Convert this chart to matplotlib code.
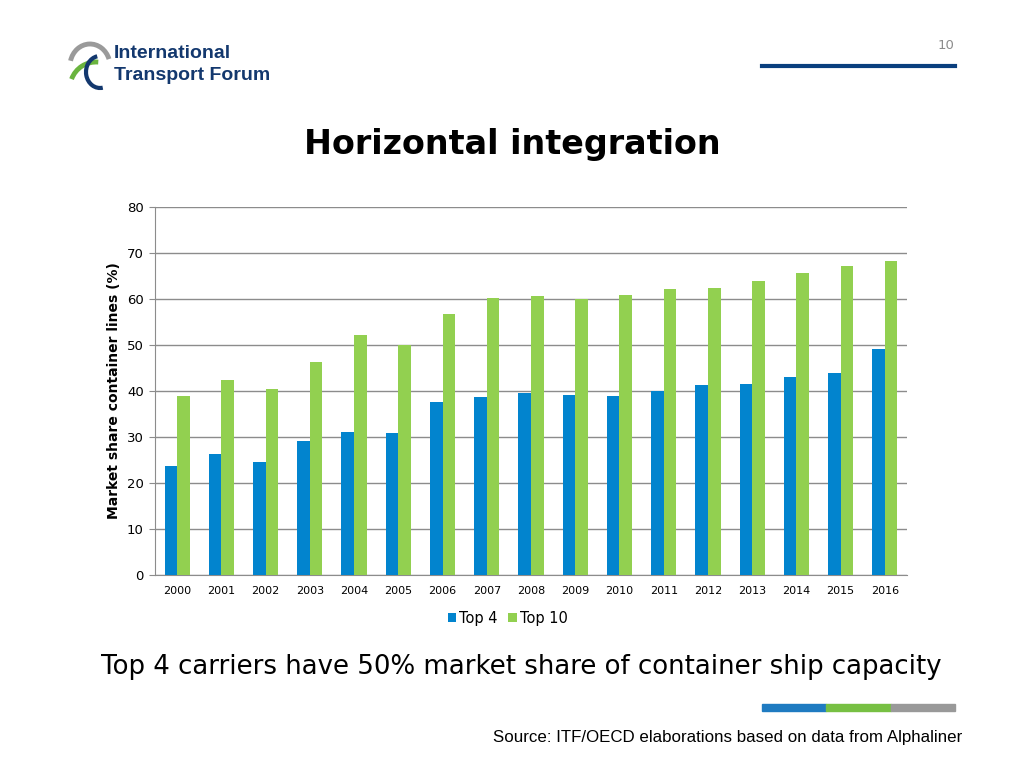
import matplotlib.pyplot as plt
import numpy as np
from matplotlib.patches import Arc, Rectangle
from matplotlib.lines import Line2D

years = ['2000', '2001', '2002', '2003', '2004', '2005', '2006', '2007', '2008',
         '2009', '2010', '2011', '2012', '2013', '2014', '2015', '2016']
top4 = [23.7, 26.2, 24.6, 29.1, 31.1, 30.9, 37.7, 38.8, 39.5,
        39.1, 39.0, 40.1, 41.2, 41.6, 43.0, 44.0, 49.2]
top10 = [38.9, 42.4, 40.4, 46.3, 52.2, 50.1, 56.7, 60.2, 60.7,
         60.1, 60.9, 62.2, 62.4, 63.9, 65.6, 67.1, 68.3]

plt.rcParams['font.family'] = 'DejaVu Sans'

fig = plt.figure(figsize=(10.24, 7.68), dpi=100)
ax = fig.add_axes([0.1514, 0.2513, 0.7343, 0.4792])

x = np.arange(len(years))
w = 0.285
blue = '#0284CE'
green = '#92D050'
ax.bar(x - w / 2, top4, w, color=blue, label='Top 4', zorder=3)
ax.bar(x + w / 2, top10, w, color=green, label='Top 10', zorder=3)

ax.set_xlim(-0.5, len(years) - 0.5)
ax.set_ylim(0, 80)
ax.set_yticks(range(0, 81, 10))
ax.set_xticks(x)
ax.set_xticklabels(years)
ax.yaxis.grid(True, color='#8c8c8c', linewidth=1, zorder=0)
for s in ['top', 'right']:
    ax.spines[s].set_visible(False)
ax.spines['left'].set_color('#8c8c8c')
ax.spines['bottom'].set_color('#8c8c8c')
ax.tick_params(axis='y', labelsize=9.5, length=4, color='#8c8c8c', pad=4)
ax.tick_params(axis='x', labelsize=8, length=0, pad=8)
ax.set_ylabel('Market share container lines (%)', fontsize=10, fontweight='bold', labelpad=4)

ax.legend(loc='upper center', bbox_to_anchor=(0.469, -0.062), ncol=2, frameon=False,
          fontsize=10.5, handlelength=0.6, handleheight=0.6, handletextpad=0.2, columnspacing=0.7)

# title and captions
fig.text(0.5, 0.812, 'Horizontal integration', ha='center', va='center',
         fontsize=24, fontweight='bold')
fig.text(0.509, 0.131, 'Top 4 carriers have 50% market share of container ship capacity',
         ha='center', va='center', fontsize=18.7)
fig.text(0.94, 0.040, 'Source: ITF/OECD elaborations based on data from Alphaliner',
         ha='right', va='center', fontsize=12.2, family='Liberation Sans')

# page number and header rule
fig.text(0.932, 0.941, '10', ha='right', va='center', fontsize=9.5, color='#8c8c8c')
fig.add_artist(Line2D([762 / 1024, 955 / 1024], [1 - 66 / 768, 1 - 66 / 768],
                      color='#0a3f7e', linewidth=3, transform=fig.transFigure))

# footer colour bar
for x0, x1, c in [(762, 826, '#1f7bc1'), (826, 891, '#77c043'), (891, 955, '#999999')]:
    fig.add_artist(Rectangle((x0 / 1024, 1 - 711 / 768), (x1 - x0) / 1024, 7 / 768,
                             color=c, transform=fig.transFigure))

# logo
lax = fig.add_axes([64 / 1024, 1 - 92 / 768, 52 / 1024, 54 / 768])
lax.set_xlim(64, 116)
lax.set_ylim(676, 730)
lax.axis('off')
lax.add_patch(Arc((90, 702), 40, 44, theta1=20, theta2=165, color='#9a9a9a', linewidth=3.5))
lax.add_patch(Arc((96, 680), 52, 52, theta1=85, theta2=160, color='#6ab43e', linewidth=3.5))
lax.add_patch(Arc((100, 696), 28, 32, theta1=100, theta2=280, color='#13386e', linewidth=3))
fig.text(114 / 1024, 1 - 54 / 768, 'International', ha='left', va='center',
         fontsize=14, fontweight='bold', color='#13386e', family='Liberation Sans')
fig.text(114 / 1024, 1 - 75 / 768, 'Transport Forum', ha='left', va='center',
         fontsize=14, fontweight='bold', color='#13386e', family='Liberation Sans')

fig.savefig('out.png', dpi=100)
